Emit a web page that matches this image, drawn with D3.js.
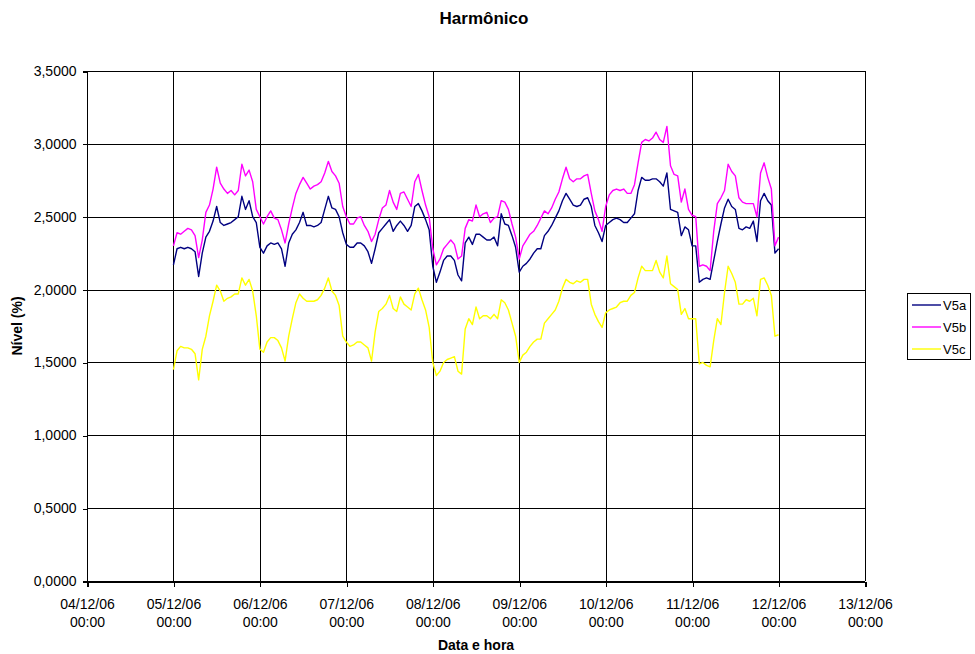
<!DOCTYPE html>
<html>
<head>
<meta charset="utf-8">
<script src="https://cdn.jsdelivr.net/npm/d3@7"></script>
<style>
  html, body { margin: 0; padding: 0; background: #fff; }
  svg { display: block; font-family: "Liberation Sans", Arial, sans-serif; }
</style>
</head>
<body>
<svg id="chart" width="975" height="654"></svg>
<script>
// ---- Data (hourly samples from 05/12/06 00:00 to 12/12/06 00:00) ----
const seriesNames = ["V5a", "V5b", "V5c"];
const seriesColors = ["#000080", "#FF00FF", "#FFFF00"];

const V5a = [
  2.17,2.28,2.29,2.28,2.29,2.28,2.26,2.09,2.25,2.36,2.40,2.47,2.57,2.46,2.44,2.45,2.46,2.48,2.50,2.64,2.55,2.61,2.50,2.46,
  2.29,2.25,2.30,2.32,2.31,2.32,2.28,2.16,2.32,2.38,2.41,2.46,2.53,2.44,2.44,2.43,2.44,2.46,2.55,2.64,2.56,2.55,2.50,2.39,
  2.31,2.29,2.29,2.32,2.32,2.30,2.26,2.18,2.28,2.39,2.42,2.45,2.48,2.40,2.44,2.47,2.44,2.40,2.44,2.57,2.59,2.54,2.48,2.41,
  2.16,2.05,2.12,2.20,2.23,2.23,2.20,2.10,2.06,2.32,2.36,2.31,2.38,2.38,2.36,2.34,2.34,2.36,2.30,2.52,2.45,2.44,2.37,2.29,
  2.12,2.16,2.18,2.21,2.25,2.28,2.28,2.37,2.40,2.44,2.49,2.54,2.61,2.66,2.62,2.58,2.57,2.58,2.62,2.63,2.57,2.44,2.39,2.33,
  2.44,2.46,2.48,2.49,2.48,2.46,2.46,2.49,2.52,2.68,2.77,2.75,2.75,2.76,2.76,2.74,2.71,2.80,2.55,2.54,2.53,2.37,2.43,2.41,
  2.30,2.30,2.05,2.07,2.08,2.07,2.20,2.33,2.45,2.56,2.62,2.57,2.55,2.42,2.41,2.43,2.42,2.47,2.33,2.61,2.66,2.61,2.58,2.25,
  2.28
];
const V5b = [
  2.30,2.39,2.38,2.40,2.42,2.41,2.37,2.22,2.34,2.53,2.58,2.69,2.84,2.73,2.69,2.66,2.68,2.65,2.68,2.86,2.78,2.82,2.74,2.55,
  2.50,2.45,2.50,2.54,2.49,2.48,2.41,2.32,2.45,2.56,2.66,2.72,2.77,2.73,2.69,2.71,2.72,2.74,2.80,2.88,2.81,2.78,2.73,2.57,
  2.50,2.45,2.45,2.49,2.50,2.44,2.40,2.33,2.38,2.48,2.56,2.58,2.68,2.60,2.55,2.66,2.67,2.62,2.57,2.74,2.79,2.68,2.58,2.50,
  2.28,2.17,2.21,2.28,2.31,2.34,2.31,2.21,2.23,2.42,2.48,2.47,2.58,2.50,2.52,2.53,2.46,2.49,2.50,2.61,2.60,2.55,2.45,2.36,
  2.21,2.30,2.34,2.38,2.40,2.44,2.49,2.54,2.52,2.56,2.62,2.67,2.76,2.84,2.76,2.74,2.76,2.76,2.78,2.79,2.66,2.54,2.48,2.40,
  2.57,2.65,2.68,2.69,2.68,2.69,2.66,2.66,2.72,2.87,3.01,3.03,3.02,3.04,3.08,3.03,3.01,3.12,2.85,2.79,2.78,2.60,2.69,2.55,
  2.51,2.50,2.16,2.17,2.16,2.13,2.40,2.59,2.63,2.68,2.86,2.81,2.78,2.63,2.60,2.59,2.59,2.59,2.50,2.80,2.87,2.77,2.69,2.30,
  2.36
];
const V5c = [
  1.45,1.58,1.61,1.60,1.60,1.59,1.56,1.38,1.59,1.68,1.82,1.92,2.03,1.99,1.92,1.94,1.95,1.97,1.97,2.08,2.03,2.07,1.99,1.82,
  1.59,1.57,1.64,1.67,1.67,1.65,1.60,1.51,1.68,1.80,1.91,1.97,1.94,1.92,1.92,1.92,1.93,1.96,2.01,2.08,1.99,1.96,1.89,1.68,
  1.64,1.61,1.62,1.64,1.64,1.62,1.60,1.51,1.71,1.85,1.87,1.90,1.96,1.87,1.85,1.95,1.90,1.88,1.86,1.97,2.01,1.93,1.86,1.74,
  1.50,1.41,1.44,1.50,1.52,1.53,1.54,1.44,1.42,1.73,1.80,1.76,1.88,1.80,1.82,1.82,1.80,1.83,1.80,1.93,1.91,1.86,1.77,1.68,
  1.50,1.55,1.57,1.61,1.64,1.66,1.66,1.77,1.80,1.83,1.86,1.92,2.01,2.07,2.05,2.04,2.06,2.05,2.07,2.07,1.90,1.83,1.78,1.74,
  1.84,1.86,1.87,1.88,1.91,1.92,1.92,1.96,1.98,2.08,2.16,2.13,2.13,2.13,2.20,2.12,2.08,2.23,2.04,2.02,2.00,1.83,1.87,1.80,
  1.80,1.80,1.49,1.50,1.48,1.47,1.65,1.80,1.76,1.98,2.16,2.11,2.05,1.90,1.90,1.93,1.92,1.94,1.82,2.07,2.08,2.03,1.96,1.68,
  1.69
];
const seriesValues = [V5a, V5b, V5c];

const startTime = new Date(2006, 11, 5, 0, 0);   // first sample
const stepHours = 1;
const xDomain = [new Date(2006, 11, 4), new Date(2006, 11, 13)];
const yDomain = [0, 3.5];
const yTickValues = [0, 0.5, 1, 1.5, 2, 2.5, 3, 3.5];
const xTickDates = d3.range(4, 14).map(d => new Date(2006, 11, d));

const titleText = "Harmônico";
const xTitle = "Data e hora";
const yTitle = "Nível (%)";

// ---- Layout ----
const svg = d3.select("#chart");
const plot = { left: 87, right: 865, top: 71, bottom: 581 };

const x = d3.scaleTime().domain(xDomain).range([plot.left, plot.right]);
const y = d3.scaleLinear().domain(yDomain).range([plot.bottom, plot.top]);

const timeOf = i => new Date(startTime.getTime() + i * stepHours * 3600 * 1000);

// gridlines
const grid = svg.append("g").attr("shape-rendering", "crispEdges");
grid.selectAll("line.h").data(yTickValues).join("line")
  .attr("x1", plot.left).attr("x2", plot.right)
  .attr("y1", d => Math.round(y(d)) + 0.5).attr("y2", d => Math.round(y(d)) + 0.5)
  .attr("stroke", "#000").attr("stroke-width", 1);
grid.selectAll("line.v").data(xTickDates).join("line")
  .attr("y1", plot.top).attr("y2", plot.bottom)
  .attr("x1", d => Math.round(x(d)) + 0.5).attr("x2", d => Math.round(x(d)) + 0.5)
  .attr("stroke", "#000").attr("stroke-width", 1);

// series lines
const line = d3.line()
  .x((d, i) => x(timeOf(i)))
  .y(d => y(d));
svg.append("g").selectAll("path").data(seriesValues).join("path")
  .attr("d", d => line(d))
  .attr("fill", "none")
  .attr("stroke", (d, i) => seriesColors[i])
  .attr("stroke-width", 1.4)
  .attr("stroke-linejoin", "round");

// axes
const fmtY = v => d3.format(".4f")(v).replace(".", ",");
const yAxis = d3.axisLeft(y).tickValues(yTickValues).tickFormat(fmtY).tickSize(5).tickPadding(6);
const gy = svg.append("g").attr("transform", `translate(${plot.left + 0.5},0)`).call(yAxis);
gy.select(".domain").attr("stroke", "#000").attr("d", `M-5,${plot.top}H0V${plot.bottom}H-5`).attr("shape-rendering", "crispEdges");
gy.selectAll(".tick line").attr("shape-rendering", "crispEdges");
gy.selectAll(".tick line").attr("transform", "translate(0,0.5)");
gy.selectAll("text").attr("font-size", 14).attr("fill", "#000")
  .attr("font-family", "Liberation Sans, Arial, sans-serif");

const xAxis = d3.axisBottom(x).tickValues(xTickDates).tickSize(5).tickFormat("");
const gx = svg.append("g").attr("transform", `translate(0,${plot.bottom + 0.5})`).call(xAxis);
gx.select(".domain").attr("stroke", "#000").attr("shape-rendering", "crispEdges");
gx.selectAll(".tick line").attr("shape-rendering", "crispEdges").attr("transform", "translate(0.5,0)");
const fmtDate = d3.timeFormat("%d/%m/%y");
const fmtTime = d3.timeFormat("%H:%M");
gx.selectAll(".tick").each(function(d) {
  const t = d3.select(this).append("text")
    .attr("fill", "#000").attr("font-size", 14).attr("text-anchor", "middle")
    .attr("font-family", "Liberation Sans, Arial, sans-serif");
  t.append("tspan").attr("x", 0).attr("y", 27).text(fmtDate(d));
  t.append("tspan").attr("x", 0).attr("y", 45).text(fmtTime(d));
});

// titles
svg.append("text").attr("x", 484).attr("y", 24).attr("text-anchor", "middle")
  .attr("font-weight", "bold").attr("font-size", 17).text(titleText);
svg.append("text").attr("x", 476).attr("y", 650).attr("text-anchor", "middle")
  .attr("font-weight", "bold").attr("font-size", 14).text(xTitle);
svg.append("text").attr("transform", "translate(22,326) rotate(-90)").attr("text-anchor", "middle")
  .attr("font-weight", "bold").attr("font-size", 14).text(yTitle);

// legend
const legend = svg.append("g");
legend.append("rect").attr("x", 907.5).attr("y", 293.5).attr("width", 63).attr("height", 66)
  .attr("fill", "#fff").attr("stroke", "#000").attr("stroke-width", 1);
const rows = legend.selectAll("g.row").data(seriesNames).join("g")
  .attr("transform", (d, i) => `translate(0,${305 + i * 22})`);
rows.append("line").attr("x1", 912).attr("x2", 941).attr("y1", 0).attr("y2", 0)
  .attr("stroke", (d, i) => seriesColors[i]).attr("stroke-width", 1.4);
rows.append("text").attr("x", 943).attr("y", 0).attr("dy", "0.36em")
  .attr("font-size", 13).text(d => d);
</script>
</body>
</html>
